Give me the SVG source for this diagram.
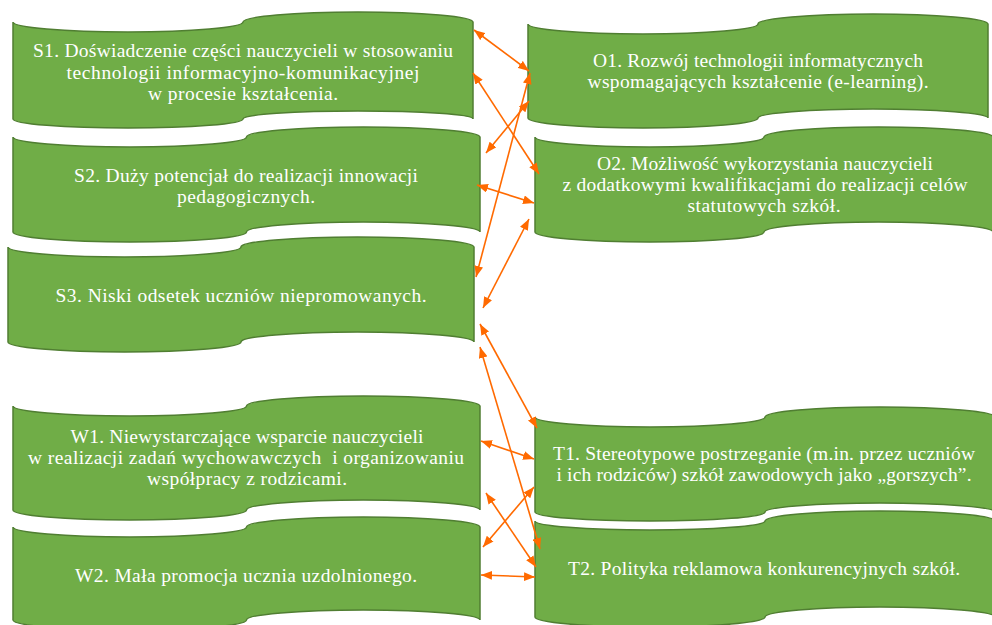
<svg xmlns="http://www.w3.org/2000/svg" width="992" height="625" viewBox="0 0 992 625">
<style>
.box{fill:#70AD47;stroke:#507E32;stroke-width:1.5}
.t{fill:#ffffff;font-family:"Liberation Serif","DejaVu Serif",serif;font-size:19.5px;text-anchor:middle}
.c{stroke:#FF6A00;stroke-width:1.6;fill:none;marker-start:url(#ah);marker-end:url(#ah)}
</style>
<defs>
<marker id="ah" viewBox="0 0 10 8" refX="10" refY="4" markerWidth="11" markerHeight="9" markerUnits="userSpaceOnUse" orient="auto-start-reverse">
<path d="M0,0 L10,4 L0,8 Z" fill="#FF6A00"/>
</marker>
</defs>
<rect width="992" height="625" fill="#ffffff"/>

<g id="S1">
<path class="box" d="M13,22 A115,10 0 0 0 243,22 A115,10 0 0 1 473,22 L473,119 A115,8 0 0 0 243,119 A115,9 0 0 1 13,119 Z"/>
<text class="t" x="243" y="57" textLength="420" lengthAdjust="spacing">S1. Doświadczenie części nauczycieli w stosowaniu</text>
<text class="t" x="243" y="79" textLength="353" lengthAdjust="spacing">technologii informacyjno-komunikacyjnej</text>
<text class="t" x="243" y="100" textLength="190" lengthAdjust="spacing">w procesie kształcenia.</text>
</g>

<g id="S2">
<path class="box" d="M13,137 A116.75,10 0 0 0 246.5,137 A116.75,10 0 0 1 480,137 L480,232 A116.75,10 0 0 0 246.5,232 A116.75,10 0 0 1 13,232 Z"/>
<text class="t" x="246" y="182" textLength="344" lengthAdjust="spacing">S2. Duży potencjał do realizacji innowacji</text>
<text class="t" x="246" y="203" textLength="138" lengthAdjust="spacing">pedagogicznych.</text>
</g>

<g id="S3">
<path class="box" d="M8,247 A116.5,10 0 0 0 241,247 A116.5,10 0 0 1 474,247 L474,342 A116.5,10 0 0 0 241,342 A116.5,10 0 0 1 8,342 Z"/>
<text class="t" x="241" y="302" textLength="371" lengthAdjust="spacing">S3. Niski odsetek uczniów niepromowanych.</text>
</g>

<g id="W1">
<path class="box" d="M13,406 A116.75,10 0 0 0 246.5,406 A116.75,10 0 0 1 480,406 L480,510 A116.75,10 0 0 0 246.5,510 A116.75,10 0 0 1 13,510 Z"/>
<text class="t" x="247" y="443" textLength="353" lengthAdjust="spacing">W1. Niewystarczające wsparcie nauczycieli</text>
<text class="t" x="246" y="464" textLength="436" lengthAdjust="spacing" xml:space="preserve">w realizacji zadań wychowawczych  i organizowaniu</text>
<text class="t" x="247" y="485" textLength="200" lengthAdjust="spacing">współpracy z rodzicami.</text>
</g>

<g id="W2">
<path class="box" d="M13,527 A116.75,10 0 0 0 246.5,527 A116.75,10 0 0 1 480,527 L480,620 A116.75,10 0 0 0 246.5,620 A116.75,10 0 0 1 13,620 Z"/>
<text class="t" x="246" y="582" textLength="342" lengthAdjust="spacing">W2. Mała promocja ucznia uzdolnionego.</text>
</g>

<g id="O1">
<path class="box" d="M528,24 A115,10 0 0 0 758,24 A115,10 0 0 1 988,24 L988,118 A115,9 0 0 0 758,118 A115,10 0 0 1 528,118 Z"/>
<text class="t" x="758" y="67" textLength="330" lengthAdjust="spacing">O1. Rozwój technologii informatycznych</text>
<text class="t" x="758" y="88" textLength="341" lengthAdjust="spacing">wspomagających kształcenie (e-learning).</text>
</g>

<g id="O2">
<path class="box" d="M535,137 A114.5,10 0 0 0 764,137 A114.5,10 0 0 1 993,137 L993,232 A114.5,10 0 0 0 764,232 A114.5,10 0 0 1 535,232 Z"/>
<text class="t" x="765" y="170" textLength="336" lengthAdjust="spacing">O2. Możliwość wykorzystania nauczycieli</text>
<text class="t" x="765" y="191" textLength="405" lengthAdjust="spacing">z dodatkowymi kwalifikacjami do realizacji celów</text>
<text class="t" x="764" y="212" textLength="153" lengthAdjust="spacing">statutowych szkół.</text>
</g>

<g id="T1">
<path class="box" d="M535,417 A115,10 0 0 0 765,417 A115,10 0 0 1 995,417 L995,512 A115,9 0 0 0 765,512 A115,9 0 0 1 535,512 Z"/>
<text class="t" x="764" y="460" textLength="422" lengthAdjust="spacing">T1. Stereotypowe postrzeganie (m.in. przez uczniów</text>
<text class="t" x="764" y="481" textLength="415" lengthAdjust="spacing">i ich rodziców) szkół zawodowych jako „gorszych”.</text>
</g>

<g id="T2">
<path class="box" d="M535,521 A115,9 0 0 0 765,521 A115,10 0 0 1 995,521 L995,617 A115,10 0 0 0 765,617 A115,10 0 0 1 535,617 Z"/>
<text class="t" x="764" y="575" textLength="392" lengthAdjust="spacing">T2. Polityka reklamowa konkurencyjnych szkół.</text>
</g>

<g id="connectors">
<line class="c" x1="474" y1="30" x2="529" y2="71"/>
<line class="c" x1="473" y1="73" x2="539" y2="174"/>
<line class="c" x1="530" y1="73" x2="476" y2="277"/>
<line class="c" x1="529" y1="101" x2="486" y2="153"/>
<line class="c" x1="477" y1="185" x2="534" y2="203"/>
<line class="c" x1="529" y1="219" x2="483" y2="308"/>
<line class="c" x1="480" y1="324" x2="537" y2="428"/>
<line class="c" x1="480" y1="347" x2="540" y2="549"/>
<line class="c" x1="481" y1="441" x2="534" y2="459"/>
<line class="c" x1="534" y1="487" x2="483" y2="547"/>
<line class="c" x1="486" y1="493" x2="536" y2="567"/>
<line class="c" x1="481" y1="575" x2="535" y2="577"/>
</g>
</svg>
